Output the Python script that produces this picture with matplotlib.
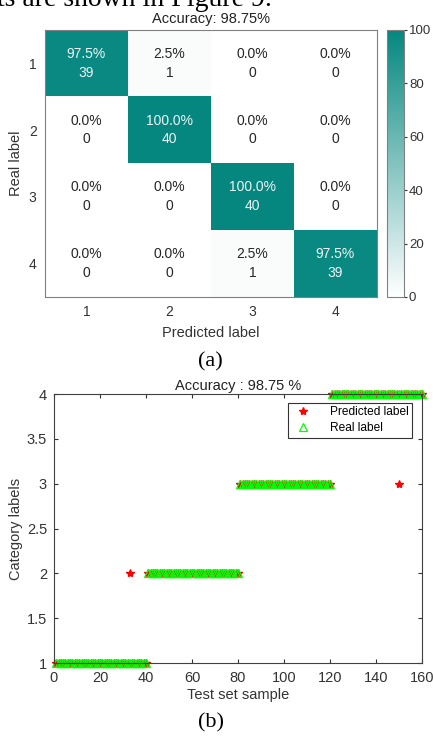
import numpy as np
import matplotlib
matplotlib.use('Agg')
import matplotlib.pyplot as plt
from matplotlib.colors import LinearSegmentedColormap

plt.rcParams['font.family'] = ['Liberation Sans', 'DejaVu Sans']

# confusion matrix data
classes = [1, 2, 3, 4]
counts = [[39, 1, 0, 0],
          [0, 40, 0, 0],
          [0, 0, 40, 0],
          [0, 0, 1, 39]]
accuracy = 98.75

# test set: 40 samples per class, two misclassified samples
class_sizes = [40, 40, 40, 40]
wrong_sample = [33, 150]
wrong_pred = [2, 3]

real = np.repeat(classes, class_sizes)
pred = real.copy()
for s, p in zip(wrong_sample, wrong_pred):
    pred[s - 1] = p
samples = np.arange(1, len(real) + 1)

teal = '#05877f'
cmap = LinearSegmentedColormap.from_list('tealmap', ['#ffffff', teal])
edge = '#808080'

fig = plt.figure(figsize=(4.33, 7.38), dpi=100)

fig.text(-0.007, 1 - 6.5 / 738, 'ts are shown in Figure 9.', fontsize=20,
         family='Liberation Serif', va='baseline', ha='left')

# (a) confusion matrix
cm = np.array(counts, dtype=float)
pct = cm / cm.sum(axis=1, keepdims=True) * 100
ax1 = fig.add_axes([0.1039, 0.5976, 0.7667, 0.3618])
im = ax1.imshow(pct, cmap=cmap, vmin=0, vmax=100, aspect='auto')
for i in range(len(classes)):
    for j in range(len(classes)):
        c = '#eef5f5' if pct[i, j] > 50 else '#262626'
        ax1.text(j, i - 0.14, f'{pct[i, j]:.1f}%', ha='center', va='center',
                 color=c, fontsize=10)
        ax1.text(j, i + 0.14, f'{int(cm[i, j])}', ha='center', va='center',
                 color=c, fontsize=10)
ax1.set_xticks(range(len(classes)))
ax1.set_yticks(range(len(classes)))
ax1.set_xticklabels(classes, fontsize=10, color='#333333')
ax1.set_yticklabels(classes, fontsize=10, color='#333333')
ax1.tick_params(length=0, pad=6)
ax1.set_xlabel('Predicted label', fontsize=10.5, color='#333333', labelpad=5)
ax1.set_ylabel('Real label', fontsize=10.5, color='#333333', labelpad=4)
for sp in ax1.spines.values():
    sp.set_color(edge)
fig.text(0.487, 1 - 22.7 / 738, f'Accuracy: {accuracy:.2f}%', ha='center',
         va='baseline', fontsize=10.5, color='#222222')

cax = fig.add_axes([0.8938, 0.5976, 0.0393, 0.3618])
cb = fig.colorbar(im, cax=cax, ticks=[0, 20, 40, 60, 80, 100])
cb.outline.set_edgecolor(edge)
cax.tick_params(labelsize=9.5, direction='out', length=2, pad=1.5,
                colors='#333333')

fig.text(0.487, 0.5095, '(a)', ha='center', va='center', fontsize=16,
         family='Liberation Serif')

# (b) predicted vs real labels
ax2 = fig.add_axes([0.1247, 0.1016, 0.8499, 0.3645])
ax2.plot(samples, pred, 'r*', markersize=6, label='Predicted label',
         clip_on=False)
ax2.plot(samples, real, '^', color='#00ff00', markerfacecolor='none',
         markersize=5.5, markeredgewidth=0.9, label='Real label', clip_on=False)
ax2.set_xlim(0, 160)
ax2.set_ylim(1, 4)
ax2.set_xticks(np.arange(0, 161, 20))
ax2.set_yticks([1, 1.5, 2, 2.5, 3, 3.5, 4])
ax2.set_yticklabels(['1', '1.5', '2', '2.5', '3', '3.5', '4'])
ax2.tick_params(direction='in', top=True, right=True, length=3, labelsize=10.5,
                colors='#333333')
ax2.tick_params(axis='x', pad=6)
ax2.tick_params(axis='y', pad=5)
ax2.set_xlabel('Test set sample', fontsize=10.5, color='#333333', labelpad=2)
ax2.set_ylabel('Category labels', fontsize=10.5, color='#333333', labelpad=3)
for sp in ax2.spines.values():
    sp.set_color('#404040')
ax2.set_title(f'Accuracy : {accuracy:.2f} %', fontsize=10.5, color='#222222', pad=3)
leg = ax2.legend(loc='upper right', bbox_to_anchor=(0.973, 0.967), fontsize=8.6,
                 fancybox=False, edgecolor='#333333', framealpha=1,
                 borderaxespad=0, borderpad=0.3, handletextpad=1.2,
                 labelspacing=0.3)
leg.get_frame().set_linewidth(0.8)

fig.text(0.487, 0.0203, '(b)', ha='center', va='center', fontsize=16,
         family='Liberation Serif')

fig.savefig('out.png', dpi=100)
